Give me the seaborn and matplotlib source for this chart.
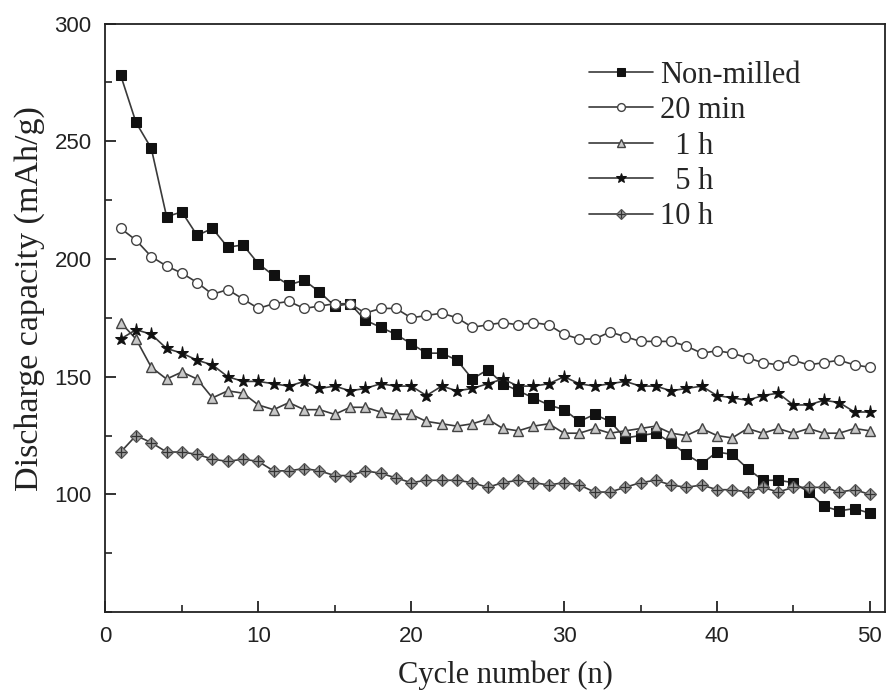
import numpy as np
import pandas as pd
import matplotlib
matplotlib.use("Agg")
import matplotlib.pyplot as plt
import seaborn as sns
from matplotlib.ticker import MultipleLocator
from matplotlib.legend_handler import HandlerTuple

cycles = list(range(1, 51))
non_milled = [278, 258, 247, 218, 220, 210, 213, 205, 206, 198, 193, 189, 191, 186, 180, 181, 174, 171, 168, 164,
              160, 160, 157, 149, 153, 147, 144, 141, 138, 136, 131, 134, 131, 124, 125, 126, 122, 117, 113, 118,
              117, 111, 106, 106, 105, 101, 95, 93, 94, 92]
min20 = [213, 208, 201, 197, 194, 190, 185, 187, 183, 179, 181, 182, 179, 180, 181, 181, 177, 179, 179, 175,
         176, 177, 175, 171, 172, 173, 172, 173, 172, 168, 166, 166, 169, 167, 165, 165, 165, 163, 160, 161,
         160, 158, 156, 155, 157, 155, 156, 157, 155, 154]
h1 = [173, 166, 154, 149, 152, 149, 141, 144, 143, 138, 136, 139, 136, 136, 134, 137, 137, 135, 134, 134,
      131, 130, 129, 130, 132, 128, 127, 129, 130, 126, 126, 128, 126, 127, 128, 129, 126, 125, 128, 125,
      124, 128, 126, 128, 126, 128, 126, 126, 128, 127]
h5 = [166, 170, 168, 162, 160, 157, 155, 150, 148, 148, 147, 146, 148, 145, 146, 144, 145, 147, 146, 146,
      142, 146, 144, 145, 147, 149, 146, 146, 147, 150, 147, 146, 147, 148, 146, 146, 144, 145, 146, 142,
      141, 140, 142, 143, 138, 138, 140, 139, 135, 135]
h10 = [118, 125, 122, 118, 118, 117, 115, 114, 115, 114, 110, 110, 111, 110, 108, 108, 110, 109, 107, 105,
       106, 106, 106, 105, 103, 105, 106, 105, 104, 105, 104, 101, 101, 103, 105, 106, 104, 103, 104, 102,
       102, 101, 103, 101, 103, 103, 103, 101, 102, 100]
labels = ["Non-milled", "20 min", "  1 h", "  5 h", "10 h"]

sns.set_theme(style="ticks")
plt.rcParams['font.family'] = ['Liberation Serif', 'DejaVu Serif']

fig = plt.figure(figsize=(8.86, 6.94), dpi=100)
ax = fig.add_axes([0.119, 0.118, 0.880, 0.848])

lc = "#3a3a3a"
styles = [
    dict(marker="s", markersize=6.5, markerfacecolor="#111111", markeredgecolor="#111111"),
    dict(marker="o", markersize=7, markerfacecolor="white", markeredgecolor="#444444", markeredgewidth=1.0),
    dict(marker="^", markersize=7.5, markerfacecolor="#c8c8c8", markeredgecolor="#444444", markeredgewidth=1.0),
    dict(marker="*", markersize=9.5, markerfacecolor="#111111", markeredgecolor="#111111"),
    dict(marker="D", markersize=6.5, markerfacecolor="#a0a0a0", markeredgecolor="#555555", markeredgewidth=0.9),
]
series = [non_milled, min20, h1, h5, h10]
handles = []
for vals, lab, st in zip(series, labels, styles):
    df = pd.DataFrame({"cycle": cycles, "cap": vals})
    sns.lineplot(data=df, x="cycle", y="cap", ax=ax, color=lc, linewidth=1.2, **st)
    handles.append(ax.lines[-1])

# cross overlay for the 10 h crossed-diamond markers
df10 = pd.DataFrame({"cycle": cycles, "cap": h10})
sns.lineplot(data=df10, x="cycle", y="cap", ax=ax, linestyle="none", marker="+", markersize=6.5,
             markeredgecolor="#333333", markeredgewidth=0.9, color=lc)
cross = ax.lines[-1]

leg_handles = handles[:4] + [(handles[4], cross)]
ax.legend(leg_handles, labels, loc="upper left", bbox_to_anchor=(0.62, 0.937), frameon=False,
          fontsize=22, handlelength=2.1, handletextpad=0.22, labelspacing=0.21, borderaxespad=0,
          borderpad=0, markerscale=0.8,
          handler_map={tuple: HandlerTuple(ndivide=1, pad=0)})

ax.set_xlim(0, 51)
ax.set_ylim(50, 300)
ax.xaxis.set_major_locator(MultipleLocator(10))
ax.xaxis.set_minor_locator(MultipleLocator(5))
ax.set_yticks([100, 150, 200, 250, 300])
ax.yaxis.set_minor_locator(MultipleLocator(25))
ax.tick_params(axis="both", which="both", direction="in", top=False, right=False, color="#222222")
ax.tick_params(which="major", length=8, width=1.3, pad=10)
ax.tick_params(which="minor", length=5, width=1.2)
for lab in ax.get_xticklabels() + ax.get_yticklabels():
    lab.set_fontfamily(["Liberation Sans", "DejaVu Sans"])
    lab.set_fontsize(16)
    lab.set_color("#222222")
for sp in ax.spines.values():
    sp.set_linewidth(1.3)
    sp.set_color("#222222")

ax.set_xlabel("Cycle number (n)", fontsize=22, color="#222222")
ax.set_ylabel("Discharge capacity (mAh/g)", fontsize=24.5, color="#222222")
ax.xaxis.set_label_coords(0.513, -0.082)
ax.yaxis.set_label_coords(-0.078, 0.532)

fig.savefig("out.png", dpi=100)
